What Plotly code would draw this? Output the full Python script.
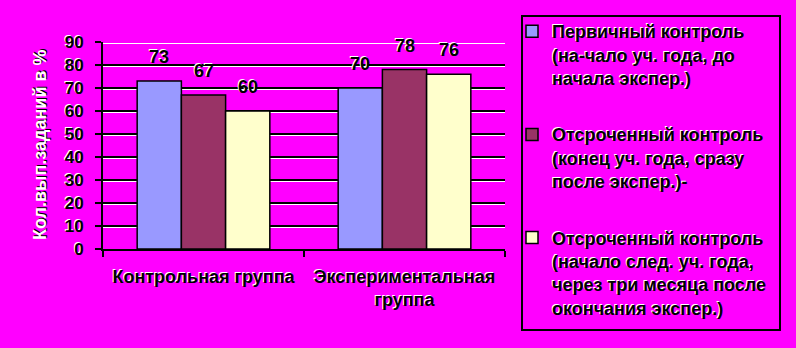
import plotly.graph_objects as go

categories = ["Контрольная группа", "Экспериментальная<br>группа"]
series_names = [
    "Первичный контроль<br>(на-чало уч. года, до<br>начала экспер.)",
    "Отсроченный контроль<br>(конец уч. года, сразу<br>после экспер.)-",
    "Отсроченный контроль<br>(начало след. уч. года,<br>через три месяца после<br>окончания экспер.)",
]
series_values = [
    [73, 70],
    [67, 78],
    [60, 76],
]
colors = ["#9999FF", "#993366", "#FFFFCC"]
y_ticks = [0, 10, 20, 30, 40, 50, 60, 70, 80, 90]
y_title = "Кол.вып.заданий в %"

BG = "#FF00FF"
FONT = "Liberation Sans"

fig = go.Figure()
for i, (name, vals, col) in enumerate(zip(series_names, series_values, colors)):
    fig.add_trace(go.Bar(
        x=categories, y=vals, name=name, legendgroup=f"g{i}",
        marker=dict(color=col, line=dict(color="black", width=1.5)),
    ))

# invisible trace to activate overlay axis (white grid shadow)
fig.add_trace(go.Scatter(x=categories, y=[None, None], yaxis="y2",
                         showlegend=False, hoverinfo="skip"))

W, H, L, R, T, B = 796, 348, 103, 291, 42, 99
plot_w = W - L - R
plot_h = H - T - B
bar_px = plot_w / len(categories) * 0.66 / 3
annotations = []
for i, vals in enumerate(series_values):
    for c, v in zip(categories, vals):
        annotations.append(dict(
            x=c, y=v, xref="x", yref="y", text=str(v), showarrow=False,
            xshift=(i - 1) * bar_px, yshift=24, yanchor="middle",
            font=dict(family=FONT, size=18, color="black", weight="bold",
                      shadow="-1px -1px 0px white"),
        ))
annotations.append(dict(
    x=-0.157, y=0.507, xref="paper", yref="paper", text=y_title,
    textangle=-90, showarrow=False, xanchor="center", yanchor="middle",
    font=dict(family=FONT, size=18, color="white", weight="bold",
              shadow="1px 1px 0px black"),
))


def px_x(p):
    return (p - L) / plot_w


def px_y(p):
    return (H - B - p) / plot_h


shapes = [dict(
    type="rect", xref="paper", yref="paper",
    x0=px_x(522), x1=px_x(780), y0=px_y(330), y1=px_y(16),
    line=dict(color="black", width=2), fillcolor="rgba(0,0,0,0)", layer="above",
)]

fig.update_layout(
    width=W, height=H,
    margin=dict(l=L, r=R, t=T, b=B, autoexpand=False),
    paper_bgcolor=BG, plot_bgcolor=BG,
    barmode="group", bargap=0.34, bargroupgap=0,
    font=dict(family=FONT, color="black"),
    xaxis=dict(
        showline=True, linecolor="black", linewidth=2,
        ticks="outside", tickson="boundaries", ticklen=6, tickwidth=2, tickcolor="black",
        ticklabelstandoff=10,
        tickfont=dict(family=FONT, size=18, weight="bold", color="black",
                      shadow="-1px -1px 0px white"),
        showgrid=False,
    ),
    yaxis=dict(
        range=[0, 90], tickvals=y_ticks,
        showline=True, linecolor="black", linewidth=2,
        ticks="outside", ticklen=6, tickwidth=2, tickcolor="black",
        ticklabelstandoff=8,
        tickfont=dict(family=FONT, size=17, weight="bold", color="black",
                      shadow="-1px -1px 0px white"),
        showgrid=True, gridcolor="black", gridwidth=2, zeroline=False,
    ),
    yaxis2=dict(
        overlaying="y", range=[0.7, 90.7], tickvals=y_ticks,
        showticklabels=False, showgrid=True, gridcolor="white", gridwidth=1,
        zeroline=False, showline=False,
    ),
    legend=dict(
        x=px_x(512), y=px_y(13), xanchor="left", yanchor="top",
        bgcolor="rgba(0,0,0,0)", borderwidth=0,
        font=dict(family=FONT, size=18, weight="bold", color="black",
                  shadow="-1px -1px 0px white"),
        traceorder="grouped", tracegroupgap=30, valign="top",
        maxheight=340, itemwidth=30,
    ),
    shapes=shapes,
    annotations=annotations,
    showlegend=True,
)

fig.write_html("out.html")
